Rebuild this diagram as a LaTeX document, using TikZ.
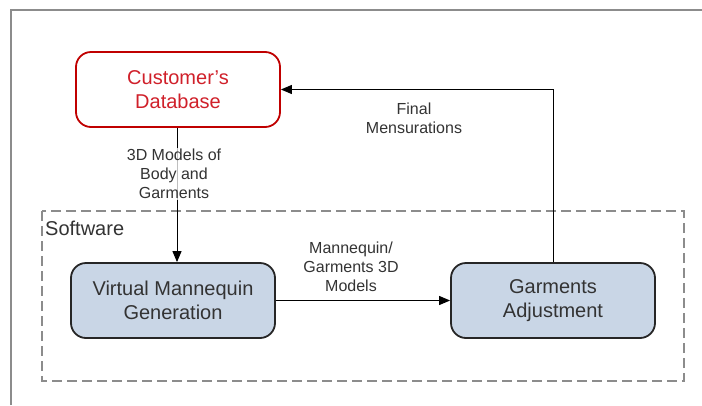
\documentclass[tikz,border=0pt]{standalone}
\usepackage{fontspec}
\setmainfont{Liberation Sans}
\usetikzlibrary{arrows.meta}
\definecolor{dbred}{HTML}{C00000}
\definecolor{dbtext}{HTML}{D0202A}
\definecolor{procfill}{HTML}{C9D6E6}
\definecolor{framegray}{HTML}{8C8C8C}
\begin{document}
\begin{tikzpicture}[x=1pt,y=-1pt,
  box/.style={rounded corners=15pt, minimum width=204pt, minimum height=75pt,
    line width=1.8pt, align=center, inner sep=0pt,
    font=\fontsize{20}{24}\selectfont},
  dbbox/.style={box, draw=dbred, text=dbtext, fill=white},
  procbox/.style={box, draw=black!85, fill=procfill, text=black!80},
  lbl/.style={align=center, inner sep=1pt, text=black!80,
    font=\fontsize{16}{19}\selectfont},
  arr/.style={line width=1pt, -{Triangle[length=11pt,width=9pt]}}]
\useasboundingbox (0,0) rectangle (702,405);
\fill[white] (0,0) rectangle (702,405);
% outer frame
\draw[framegray, line width=2pt] (11,405) -- (11,9.5) -- (702,9.5);
% software boundary
\draw[framegray, line width=1.3pt, dash pattern=on 10pt off 5pt] (42,211) rectangle (684,381);
\node[anchor=base west, inner sep=0pt, text=black!80, font=\fontsize{20}{24}\selectfont] (sw) at (45,235) {Software};
% nodes
\node[dbbox] (db) at (178,89.5) {Customer's\\Database};
\node[procbox] (vm) at (173,300.5) {Virtual Mannequin\\Generation};
\node[procbox] (ga) at (553,300.5) {Garments\\Adjustment};
% connectors
\draw[arr] (db.south -| 177,0) -- (vm.north -| 177,0);
\draw[arr] (vm.east) -- (ga.east -| ga.west);
\draw[arr] (ga.north) |- (db.east);
% labels
\node[lbl, fill=white, fill opacity=0.75, text opacity=1] (l1) at (174,174) {3D Models of\\Body and\\Garments};
\node[lbl] (l2) at (351,267) {Mannequin/\\Garments 3D\\Models};
\node[lbl] (l3) at (414,118) {Final\\Mensurations};
\end{tikzpicture}
\end{document}
